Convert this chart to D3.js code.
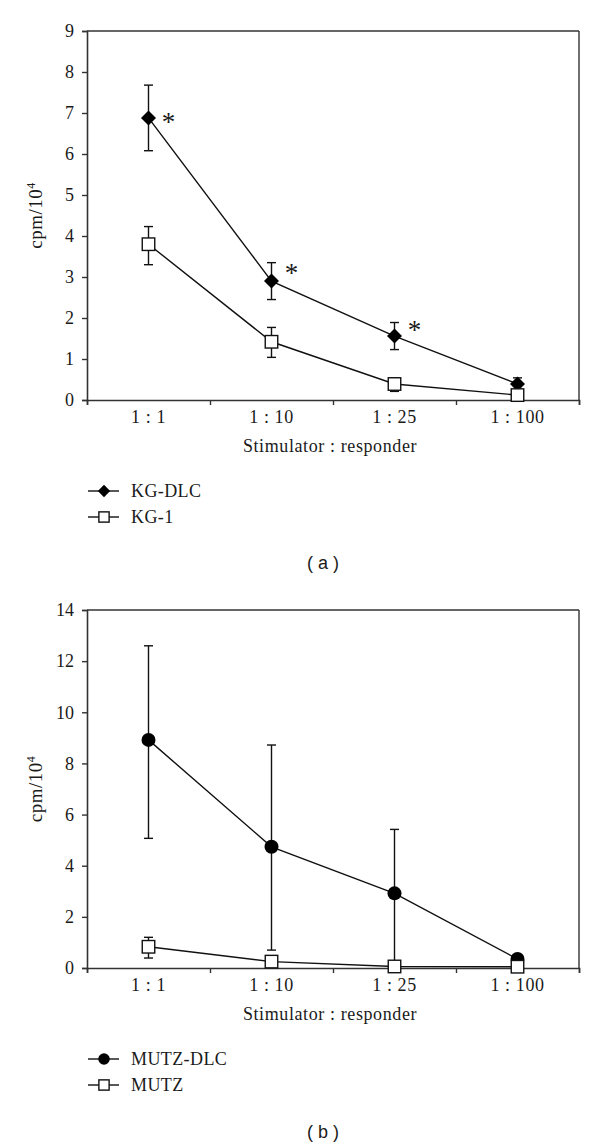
<!DOCTYPE html>
<html><head><meta charset="utf-8">
<script src="https://cdn.jsdelivr.net/npm/d3@7"></script>
<style>body{margin:0;background:#fff}svg{display:block}</style>
</head><body>
<script>
const categories = ["1 : 1", "1 : 10", "1 : 25", "1 : 100"];
// Panel a
const kgDlc = [6.88, 2.90, 1.56, 0.39];
const kgDlcErrHi = [0.80, 0.45, 0.33, 0.15];
const kgDlcErrLo = [0.80, 0.45, 0.33, 0.15];
const kg1 = [3.80, 1.42, 0.39, 0.12];
const kg1ErrHi = [0.43, 0.35, 0.15, 0.05];
const kg1ErrLo = [0.50, 0.38, 0.18, 0.05];
const starIdx = [0, 1, 2];
const starY = [6.9, 3.22, 1.82];
const yTicksA = [0,1,2,3,4,5,6,7,8,9];
// Panel b
const mutzDlc = [8.92, 4.74, 2.92, 0.35];
const mutzDlcErrHi = [3.68, 3.98, 2.50, 0.05];
const mutzDlcErrLo = [3.85, 4.04, 2.92, 0.05];
const mutz = [0.83, 0.25, 0.06, 0.05];
const mutzErrHi = [0.37, 0.05, 0.03, 0.03];
const mutzErrLo = [0.44, 0.05, 0.03, 0.03];
const yTicksB = [0,2,4,6,8,10,12,14];

const W = 600, H = 1148;
const svg = d3.select("body").append("svg").attr("width", W).attr("height", H);
const serif = "'Liberation Serif', 'DejaVu Serif', serif";
const txt = "#1a1a1a";

function panel(cfg) {
  const g = svg.append("g");
  const x = d3.scaleBand().domain(categories).range([87, 579]);
  const xb = d3.scaleLinear().domain([0, categories.length]).range([87, 579]);
  const y = d3.scaleLinear().domain([0, cfg.ymax]).range([cfg.bottom, cfg.top]);
  const axisColor = "#333";

  g.append("line").attr("x1", 87).attr("x2", 579).attr("y1", cfg.top).attr("y2", cfg.top)
    .attr("stroke", axisColor).attr("stroke-width", 1.4);
  g.append("line").attr("x1", 579).attr("x2", 579).attr("y1", cfg.top).attr("y2", cfg.bottom)
    .attr("stroke", axisColor).attr("stroke-width", 1.4);

  const ya = g.append("g").attr("transform", `translate(87,0)`)
    .call(d3.axisLeft(y).tickValues(cfg.yticks).tickSize(5).tickPadding(8).tickFormat(d3.format("d")));
  ya.select(".domain").attr("stroke", axisColor).attr("stroke-width", 1.6);
  ya.selectAll(".tick line").attr("stroke", axisColor).attr("stroke-width", 1.4);
  ya.selectAll("text").attr("font-family", serif).attr("font-size", 18).attr("fill", txt);

  const xa = g.append("g").attr("transform", `translate(0,${cfg.bottom})`)
    .call(d3.axisBottom(xb).tickValues(d3.range(0, categories.length + 1)).tickSize(5).tickFormat(""));
  xa.select(".domain").attr("stroke", axisColor).attr("stroke-width", 1.6);
  xa.selectAll(".tick line").attr("stroke", axisColor).attr("stroke-width", 1.4);
  const xl = g.append("g").attr("transform", `translate(0,${cfg.bottom})`)
    .call(d3.axisBottom(x).tickSize(0).tickPadding(17));
  xl.select(".domain").remove();
  xl.selectAll("text").attr("font-family", serif).attr("font-size", 18).attr("fill", txt)
    .attr("dy", "0.35em").attr("letter-spacing", 0.6);

  g.append("text").attr("x", 330).attr("y", cfg.bottom + 52).attr("text-anchor", "middle")
    .attr("font-family", serif).attr("font-size", 18).attr("letter-spacing", 0.6).attr("fill", txt)
    .attr("xml:space", "preserve").text("Stimulator : responder");

  const yl = g.append("text").attr("transform", `translate(42,${(cfg.top + cfg.bottom) / 2}) rotate(-90)`)
    .attr("text-anchor", "middle").attr("font-family", serif).attr("font-size", 19).attr("fill", txt)
    .attr("letter-spacing", 0.5);
  yl.append("tspan").text("cpm/10");
  yl.append("tspan").attr("dy", -7).attr("font-size", 12).text("4");

  const cx = (i) => x(categories[i]) + x.bandwidth() / 2;

  cfg.series.forEach(s => {
    s.values.forEach((v, i) => {
      const y1 = y(Math.max(0, v - s.lo[i])), y2 = y(v + s.hi[i]);
      g.append("line").attr("x1", cx(i)).attr("x2", cx(i)).attr("y1", y1).attr("y2", y2)
        .attr("stroke", "#111").attr("stroke-width", 1.4);
      [y1, y2].forEach(yy => g.append("line").attr("x1", cx(i) - 4.5).attr("x2", cx(i) + 4.5)
        .attr("y1", yy).attr("y2", yy).attr("stroke", "#111").attr("stroke-width", 1.4));
    });
  });
  cfg.series.forEach(s => {
    g.append("path").attr("d", d3.line().x((d, i) => cx(i)).y(d => y(d))(s.values))
      .attr("fill", "none").attr("stroke", "#111").attr("stroke-width", 1.4);
  });
  cfg.series.forEach(s => {
    s.values.forEach((v, i) => marker(g, s.shape, cx(i), y(v)));
  });

  if (cfg.stars) {
    cfg.stars.idx.forEach((i, k) => {
      g.append("text").attr("x", cx(i) + 20).attr("y", y(cfg.stars.y[k]) + 14)
        .attr("text-anchor", "middle").attr("font-family", serif).attr("font-size", 27)
        .attr("fill", txt).text("*");
    });
  }

  cfg.series.forEach((s, k) => {
    const ly = cfg.legendY + k * 26;
    g.append("line").attr("x1", 88).attr("x2", 119).attr("y1", ly).attr("y2", ly)
      .attr("stroke", "#111").attr("stroke-width", 1.4);
    marker(g, s.shape, 104, ly, 0.82);
    g.append("text").attr("x", 131).attr("y", ly).attr("dy", "0.35em")
      .attr("font-family", serif).attr("font-size", 18).attr("letter-spacing", 0.4).attr("fill", txt).text(s.name);
  });

  g.append("text").attr("x", 323).attr("y", cfg.labelY).attr("dy", "0.35em").attr("text-anchor", "middle")
    .attr("font-family", "'Liberation Sans', Arial, sans-serif").attr("font-size", 18).attr("fill", txt)
    .attr("xml:space", "preserve").text(cfg.label);
}

function marker(g, shape, x, y, sc = 1) {
  if (shape === "diamond") {
    const r = 7.5 * sc;
    g.append("path").attr("d", `M${x},${y - r}L${x + r},${y}L${x},${y + r}L${x - r},${y}Z`).attr("fill", "#000");
  } else if (shape === "circle") {
    g.append("circle").attr("cx", x).attr("cy", y).attr("r", 7 * sc).attr("fill", "#000");
  } else {
    const s = 12.5 * sc;
    g.append("rect").attr("x", x - s / 2).attr("y", y - s / 2).attr("width", s).attr("height", s)
      .attr("fill", "#fff").attr("stroke", "#111").attr("stroke-width", 1.4);
  }
}

panel({
  top: 31, bottom: 400, ymax: 9, yticks: yTicksA,
  series: [
    { name: "KG-DLC", values: kgDlc, hi: kgDlcErrHi, lo: kgDlcErrLo, shape: "diamond" },
    { name: "KG-1", values: kg1, hi: kg1ErrHi, lo: kg1ErrLo, shape: "square" }
  ],
  stars: { idx: starIdx, y: starY },
  legendY: 491, labelY: 563, label: "( a )"
});
panel({
  top: 610, bottom: 968, ymax: 14, yticks: yTicksB,
  series: [
    { name: "MUTZ-DLC", values: mutzDlc, hi: mutzDlcErrHi, lo: mutzDlcErrLo, shape: "circle" },
    { name: "MUTZ", values: mutz, hi: mutzErrHi, lo: mutzErrLo, shape: "square" }
  ],
  legendY: 1059, labelY: 1132, label: "( b )"
});
</script>
</body></html>
